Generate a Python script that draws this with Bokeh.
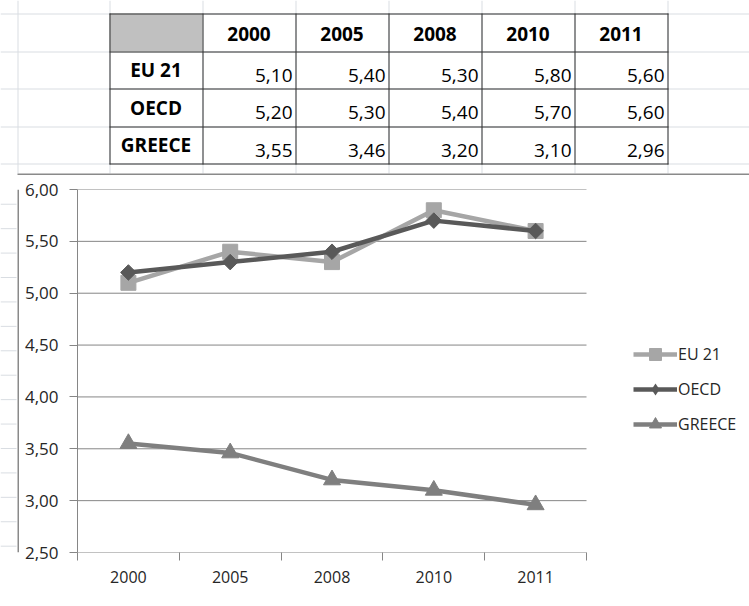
import numpy as np
from bokeh.plotting import figure
from bokeh.layouts import column, row
from bokeh.models import (Range1d, FixedTicker, CustomJSTickFormatter, Legend,
                          LegendItem)
from bokeh.core.properties import value
from bokeh.embed import file_html
from bokeh.resources import INLINE

# ---------------- data ----------------
years = ["2000", "2005", "2008", "2010", "2011"]
series_names = ["EU 21", "OECD", "GREECE"]
eu21 = [5.10, 5.40, 5.30, 5.80, 5.60]
oecd = [5.20, 5.30, 5.40, 5.70, 5.60]
greece = [3.55, 3.46, 3.20, 3.10, 2.96]
y_ticks = [2.5, 3.0, 3.5, 4.0, 4.5, 5.0, 5.5, 6.0]

# ---------------- styles / layout ----------------
FONT = "Open Sans"
W, H = 749, 606
TOP_H = 175
STRIP_W = 19
CH_W = W - STRIP_W
CH_H = H - TOP_H
GRID_LIGHT = "#d9dde2"
AXIS_C = "#868686"
TXT_C = "#262626"
colors = {"EU 21": "#a6a6a6", "OECD": "#595959", "GREECE": "#7f7f7f"}

col_edges = [109, 202, 295, 388, 481, 574, 667]
row_edges = [13, 51, 88, 126, 163]

PLOT_LEFT = 58            # px from chart figure left to the value axis
PLOT_W = 509              # px width of the category axis
FRAME_W = CH_W - PLOT_LEFT
X_END = len(years) * FRAME_W / PLOT_W   # frame extends under the legend area


def fmt(v):
    return f"{v:.2f}".replace(".", ",")


# ---------------- sheet with table ----------------
sheet = figure(width=W, height=TOP_H, x_range=Range1d(0, W), y_range=Range1d(TOP_H, 0),
               toolbar_location=None, output_backend="svg",
               x_axis_location=None, y_axis_location=None, min_border=0)
sheet.grid.visible = False
sheet.outline_line_color = None
sheet.background_fill_color = "white"
sheet.border_fill_color = "white"

# excel gridlines
vx = [17.5] + [c + 0.5 for c in col_edges]
sheet.segment(x0=vx, y0=[0] * len(vx), x1=vx, y1=[173] * len(vx),
              line_color=GRID_LIGHT, line_width=1)
hy = [r + 0.5 for r in row_edges]
sheet.segment(x0=[0] * len(hy), y0=hy, x1=[W] * len(hy), y1=hy,
              line_color=GRID_LIGHT, line_width=1)

# gray header cell
sheet.quad(left=col_edges[0], right=col_edges[1], top=row_edges[0], bottom=row_edges[1],
           fill_color="#c0c0c0", line_color=None)

# table borders
sheet.segment(x0=[col_edges[0]] * len(hy), y0=hy, x1=[col_edges[-1] + 1] * len(hy), y1=hy,
              line_color="#333333", line_width=1)
cx = [c + 0.5 for c in col_edges]
sheet.segment(x0=cx, y0=[row_edges[0]] * len(cx), x1=cx, y1=[row_edges[-1] + 1] * len(cx),
              line_color="#333333", line_width=1)

# header texts
hx = [(col_edges[i + 1] + col_edges[i + 2]) / 2 for i in range(len(years))]
sheet.text(x=hx, y=[(row_edges[0] + row_edges[1]) / 2 + 1] * len(years), text=years,
           text_font=value(FONT), text_font_size="19px", text_font_style="bold",
           text_align="center", text_baseline="middle", text_color="black")

# row labels
rl_y = [(row_edges[i + 1] + row_edges[i + 2]) / 2 for i in range(len(series_names))]
sheet.text(x=[(col_edges[0] + col_edges[1]) / 2] * len(series_names), y=rl_y,
           text=series_names, text_font=value(FONT), text_font_size="19px",
           text_font_style="bold", text_align="center", text_baseline="middle",
           text_color="black")

# values (bottom-aligned like Excel)
vx_, vy_, vt_ = [], [], []
for i, ser in enumerate([eu21, oecd, greece]):
    for j, v in enumerate(ser):
        vx_.append(col_edges[j + 2] - 3)
        vy_.append((row_edges[i + 1] + row_edges[i + 2]) / 2 + 5)
        vt_.append(fmt(v))
sheet.text(x=vx_, y=vy_, text=vt_, text_font=value(FONT), text_font_size="19px",
           text_align="right", text_baseline="middle", text_color="black")

# chart area top border
sheet.segment(x0=[17], y0=[174], x1=[W], y1=[174], line_color="#8a8a8a", line_width=2)

# ---------------- left strip ----------------
strip = figure(width=STRIP_W, height=CH_H, x_range=Range1d(0, STRIP_W), y_range=Range1d(CH_H, 0),
               toolbar_location=None, output_backend="svg",
               x_axis_location=None, y_axis_location=None, min_border=0)
strip.grid.visible = False
strip.outline_line_color = None
ry = list(np.arange(17.5, CH_H, 29.0))
strip.segment(x0=[0] * len(ry), y0=ry, x1=[16] * len(ry), y1=ry,
              line_color=GRID_LIGHT, line_width=1)
strip.segment(x0=[18], y0=[0], x1=[18], y1=[CH_H], line_color="#8a8a8a", line_width=2)

# ---------------- chart ----------------
p = figure(width=CH_W, height=CH_H, x_range=Range1d(0, X_END), y_range=Range1d(2.5, 6.0),
           toolbar_location=None, output_backend="svg",
           min_border_left=PLOT_LEFT, min_border_right=0, min_border_top=14, min_border_bottom=54)
p.outline_line_color = None
p.background_fill_color = "white"
p.border_fill_color = "white"

xs = [i + 0.5 for i in range(len(years))]

p.xaxis.ticker = FixedTicker(ticks=xs, minor_ticks=list(range(len(years) + 1)))
p.xaxis.formatter = CustomJSTickFormatter(args=dict(labels=years),
                                          code="return labels[Math.floor(tick)];")
p.xaxis.axis_line_color = None
p.xaxis.major_tick_line_color = None
p.xaxis.major_tick_out = 0
p.xaxis.major_tick_in = 0
p.xaxis.minor_tick_out = 8
p.xaxis.minor_tick_in = 0
p.xaxis.minor_tick_line_color = AXIS_C
p.xaxis.major_label_standoff = 10
p.xaxis.major_label_text_font = FONT
p.xaxis.major_label_text_font_size = "16px"
p.xaxis.major_label_text_color = TXT_C

p.yaxis.ticker = FixedTicker(ticks=y_ticks)
p.yaxis.formatter = CustomJSTickFormatter(code="return tick.toFixed(2).replace('.', ',');")
p.yaxis.axis_line_color = AXIS_C
p.yaxis.major_tick_line_color = AXIS_C
p.yaxis.major_tick_out = 8
p.yaxis.major_tick_in = 0
p.yaxis.minor_tick_line_color = None
p.yaxis.major_label_standoff = 11
p.yaxis.major_label_text_font = FONT
p.yaxis.major_label_text_font_size = "17px"
p.yaxis.major_label_text_color = TXT_C

p.grid.visible = False
# horizontal gridlines (and category axis line) spanning the categories only
p.segment(x0=[0] * len(y_ticks), y0=y_ticks, x1=[len(years)] * len(y_ticks), y1=y_ticks,
          line_color=AXIS_C, line_width=1)

items = []
specs = [
    ("EU 21", eu21, dict(marker="square", size=15), "square"),
    ("OECD", oecd, dict(marker="square", size=11, angle=np.pi / 4), "diamond"),
    ("GREECE", greece, dict(marker="triangle", size=17), "triangle"),
]
for name, vals, mk, leg_marker in specs:
    c = colors[name]
    ln = p.line(xs, vals, line_color=c, line_width=4.5, line_join="round")
    sc = p.scatter(xs, vals, fill_color=c, line_color=c, **mk)
    if leg_marker == mk["marker"] and "angle" not in mk:
        items.append(LegendItem(label=name, renderers=[ln, sc]))
    else:
        # legend-only marker (zero size on the chart) so the key shows a diamond
        lg = p.scatter(xs, vals, marker=leg_marker, size=0, fill_color=c, line_color=None)
        items.append(LegendItem(label=name, renderers=[ln, lg]))

legend = Legend(items=items, location=(556, 113), orientation="vertical",
                glyph_width=44, glyph_height=30, label_height=30, spacing=5,
                padding=0, margin=0, label_standoff=1,
                border_line_color=None, background_fill_alpha=0,
                label_text_font=FONT, label_text_font_size="16px",
                label_text_color=TXT_C)
p.add_layout(legend)

layout = column(sheet, row(strip, p))

open("out.html", "w").write(file_html(layout, INLINE))
